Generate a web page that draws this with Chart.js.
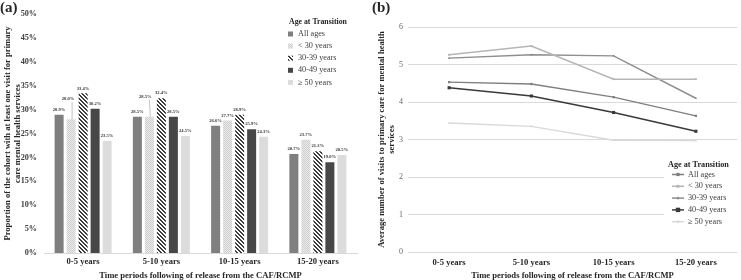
<!DOCTYPE html>
<html>
<head>
<meta charset="utf-8">
<script src="https://cdn.jsdelivr.net/npm/chart.js@4.4.1/dist/chart.umd.min.js"></script>
<style>
  html, body { margin: 0; padding: 0; background: #fff; }
  #wrap { position: relative; width: 741px; height: 280px; overflow: hidden; }
  #barChart { position: absolute; left: 0; top: 0; }
  #lineChart { position: absolute; left: 370px; top: 0; }
</style>
</head>
<body>
<div id="wrap">
  <canvas id="barChart" width="370" height="280"></canvas>
  <canvas id="lineChart" width="371" height="280"></canvas>
</div>
<script>
const periods = ['0-5 years', '5-10 years', '10-15 years', '15-20 years'];
const ageGroups = ['All ages', '< 30 years', '30-39 years', '40-49 years', '\u2265 50 years'];

// (a) proportion with at least one primary care mental health visit (%)
const propAll = [28.9, 28.5, 26.6, 20.7];
const propUnder30 = [28.0, 28.5, 27.7, 23.7];
const prop30to39 = [33.4, 32.4, 28.9, 21.3];
const prop40to49 = [30.2, 28.5, 25.9, 19.0];
const prop50plus = [23.5, 24.5, 24.3, 20.5];
const propTicks = [0, 5, 10, 15, 20, 25, 30, 35, 40, 45, 50];

// (b) average number of visits
const visitsAll = [4.53, 4.48, 4.13, 3.63];
const visitsUnder30 = [5.26, 5.49, 4.61, 4.61];
const visits30to39 = [5.17, 5.26, 5.23, 4.10];
const visits40to49 = [4.38, 4.16, 3.72, 3.22];
const visits50plus = [3.44, 3.35, 2.98, 2.97];
const visitTicks = [0, 1, 2, 3, 4, 5, 6];

const SERIF = "'Liberation Serif', 'Times New Roman', serif";
const TEXT = '#262626';

function makePattern(size, paint) {
    const c = document.createElement('canvas');
    c.width = size;
    c.height = size;
    const g = c.getContext('2d');
    paint(g);
    return document.getElementById('barChart').getContext('2d').createPattern(c, 'repeat');
}

// light dotted fill
const dotFill = makePattern(2, g => {
    g.fillStyle = '#ececec';
    g.fillRect(0, 0, 2, 2);
    g.fillStyle = '#cdcdcd';
    g.fillRect(0, 0, 1, 1);
    g.fillRect(1, 1, 1, 1);
});

// dark diagonal hatch
const hatchFill = makePattern(4, g => {
    g.fillStyle = '#ffffff';
    g.fillRect(0, 0, 4, 4);
    g.fillStyle = '#3c3c3c';
    for (let y = 0; y < 4; y++) {
        for (let x = 0; x < 4; x++) {
            const d = ((x - y) % 4 + 4) % 4;
            if (d === 0 || d === 1) g.fillRect(x, y, 1, 1);
        }
    }
});

const barFills = ['#7f7f7f', dotFill, hatchFill, '#474747', '#dcdcdc'];
const propSeries = [propAll, propUnder30, prop30to39, prop40to49, prop50plus];

// a couple of crowded labels are lifted with a leader line
const labelNudges = { '1-0': [-3, -15], '1-1': [-4, -15] };

const barLabels = {
    id: 'barLabels',
    afterDatasetsDraw(chart) {
        const ctx = chart.ctx;
        ctx.save();
        ctx.font = 'bold 4.6px ' + SERIF;
        ctx.fillStyle = '#333';
        ctx.textAlign = 'center';
        ctx.textBaseline = 'middle';
        chart.data.datasets.forEach((ds, di) => {
            chart.getDatasetMeta(di).data.forEach((bar, i) => {
                let x = bar.x;
                let y = bar.y - 5;
                const nudge = labelNudges[di + '-' + i];
                if (nudge) {
                    x += nudge[0];
                    y += nudge[1];
                    ctx.strokeStyle = '#9a9a9a';
                    ctx.lineWidth = 0.6;
                    ctx.beginPath();
                    ctx.moveTo(x + 4, y + 3);
                    ctx.lineTo(bar.x + 1, bar.y);
                    ctx.stroke();
                }
                ctx.fillText(ds.data[i].toFixed(1) + '%', x, y);
            });
        });
        ctx.restore();
    }
};

const barLegend = {
    id: 'barLegend',
    afterDraw(chart) {
        const ctx = chart.ctx;
        ctx.save();
        ctx.textAlign = 'left';
        ctx.textBaseline = 'middle';
        ctx.fillStyle = TEXT;
        ctx.font = 'bold 15px ' + SERIF;
        ctx.fillText('(a)', 0, 8);
        ctx.font = 'bold 7.8px ' + SERIF;
        ctx.fillText('Age at Transition', 289, 22);
        ctx.font = '8.2px ' + SERIF;
        chart.data.datasets.forEach((ds, i) => {
            const y = 34 + i * 12.1;
            ctx.fillStyle = ds.backgroundColor;
            ctx.fillRect(288, y - 2.5, 5, 5);
            ctx.fillStyle = '#404040';
            ctx.fillText(ds.label, 298, y);
        });
        ctx.restore();
    }
};

new Chart(document.getElementById('barChart'), {
    type: 'bar',
    data: {
        labels: periods,
        datasets: ageGroups.map((name, i) => ({
            label: name,
            data: propSeries[i],
            backgroundColor: barFills[i],
            borderWidth: 0,
            categoryPercentage: 0.767,
            barPercentage: 0.75
        }))
    },
    options: {
        responsive: false,
        animation: false,
        layout: { padding: { top: 14, right: 13, bottom: 0, left: 0 } },
        plugins: { legend: { display: false }, tooltip: { enabled: false } },
        scales: {
            x: {
                grid: { display: false, drawTicks: false },
                border: { display: true, color: '#d9d9d9' },
                ticks: { color: TEXT, font: { family: SERIF, size: 8.6, weight: 'bold' }, padding: 4 },
                title: {
                    display: true,
                    text: 'Time periods following of release from the CAF/RCMP',
                    color: TEXT,
                    font: { family: SERIF, size: 8.6, weight: 'bold' },
                    padding: { top: 2, bottom: -1 }
                },
                afterFit: s => { s.height = 27; }
            },
            y: {
                min: 0,
                max: 50,
                afterBuildTicks: s => { s.ticks = propTicks.map(v => ({ value: v })); },
                grid: { display: false, drawTicks: false },
                border: { display: false },
                ticks: {
                    color: '#404040',
                    font: { family: SERIF, size: 8.2, weight: 'bold' },
                    padding: 7,
                    callback: v => v + '%'
                },
                title: {
                    display: true,
                    text: ['Proportion of the cohort with at least one visit for primary', 'care mental health services'],
                    color: TEXT,
                    font: { family: SERIF, size: 8.6, weight: 'bold', lineHeight: 1.15 },
                    padding: { top: 2.5, bottom: 0 }
                },
                afterFit: s => { s.width = 44; }
            }
        }
    },
    plugins: [barLabels, barLegend]
});

// (b)
const lineColors = ['#7f7f7f', '#b5b5b5', '#8e8e8e', '#3a3a3a', '#d9d9d9'];
const lineMarkers = [1.6, 1.4, 1.2, 2.2, 1.2];
const visitSeries = [visitsAll, visitsUnder30, visits30to39, visits40to49, visits50plus];

const lineLegend = {
    id: 'lineLegend',
    afterDraw(chart) {
        const ctx = chart.ctx;
        ctx.save();
        ctx.textAlign = 'left';
        ctx.textBaseline = 'middle';
        ctx.fillStyle = TEXT;
        ctx.font = 'bold 15px ' + SERIF;
        ctx.fillText('(b)', 2, 8);
        ctx.fillStyle = '#ffffff';
        ctx.fillRect(294, 156, 77, 73);
        ctx.fillStyle = TEXT;
        ctx.font = 'bold 8.2px ' + SERIF;
        ctx.fillText('Age at Transition', 298, 164.5);
        ctx.font = '8.2px ' + SERIF;
        chart.data.datasets.forEach((ds, i) => {
            const y = 174.5 + i * 11.8;
            ctx.strokeStyle = ds.borderColor;
            ctx.lineWidth = 1.5;
            ctx.beginPath();
            ctx.moveTo(302, y);
            ctx.lineTo(314, y);
            ctx.stroke();
            const r = ds.pointRadius;
            ctx.fillStyle = ds.borderColor;
            ctx.fillRect(308 - r, y - r, 2 * r, 2 * r);
            ctx.fillStyle = '#404040';
            ctx.fillText(ds.label, 318, y);
        });
        ctx.restore();
    }
};

new Chart(document.getElementById('lineChart'), {
    type: 'line',
    data: {
        labels: periods,
        datasets: ageGroups.map((name, i) => ({
            label: name,
            data: visitSeries[i],
            borderColor: lineColors[i],
            backgroundColor: lineColors[i],
            borderWidth: 1.5,
            pointStyle: 'rect',
            pointRadius: lineMarkers[i],
            pointBorderWidth: 0,
            tension: 0
        }))
    },
    options: {
        responsive: false,
        animation: false,
        layout: { padding: { top: 27, right: 0, bottom: 0, left: 0 } },
        plugins: { legend: { display: false }, tooltip: { enabled: false } },
        scales: {
            x: {
                offset: true,
                grid: { display: false, drawTicks: false },
                border: { display: false },
                ticks: { color: TEXT, font: { family: SERIF, size: 8.6, weight: 'bold' }, padding: 6 },
                title: {
                    display: true,
                    text: 'Time periods following of release from the CAF/RCMP',
                    color: TEXT,
                    font: { family: SERIF, size: 8.6, weight: 'bold' },
                    padding: { top: 2, bottom: -1 }
                },
                afterFit: s => { s.height = 28; }
            },
            y: {
                min: 0,
                max: 6,
                afterBuildTicks: s => { s.ticks = visitTicks.map(v => ({ value: v })); },
                grid: { color: '#d9d9d9', drawTicks: false },
                border: { display: false },
                ticks: { color: '#666', font: { family: SERIF, size: 8 }, padding: 5 },
                title: {
                    display: true,
                    text: ['Average number of visits to primary care for mental health', 'services'],
                    color: TEXT,
                    font: { family: SERIF, size: 8.6, weight: 'bold', lineHeight: 1.15 },
                    padding: { top: 6.5, bottom: 0 }
                },
                afterFit: s => { s.width = 38; }
            }
        }
    },
    plugins: [lineLegend]
});
</script>
</body>
</html>
